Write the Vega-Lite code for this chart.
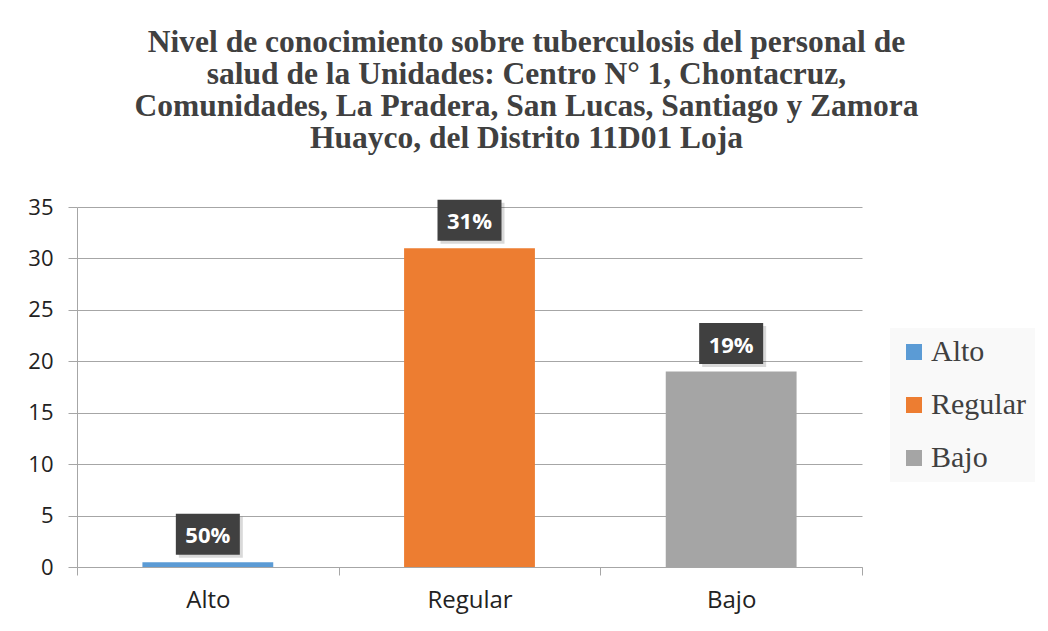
{
  "$schema": "https://vega.github.io/schema/vega-lite/v6.json",
  "width": 785,
  "height": 360,
  "autosize": {"type": "none"},
  "padding": {"left": 77, "top": 207, "right": 186, "bottom": 64},
  "background": "white",
  "data": {
    "values": [
      {"nivel": "Alto", "valor": 0.45, "etiqueta": "50%"},
      {"nivel": "Regular", "valor": 31, "etiqueta": "31%"},
      {"nivel": "Bajo", "valor": 19, "etiqueta": "19%"}
    ]
  },
  "title": {
    "text": [
      "Nivel de conocimiento sobre tuberculosis del personal de",
      "salud de la Unidades: Centro N° 1, Chontacruz,",
      "Comunidades, La Pradera, San Lucas, Santiago y Zamora",
      "Huayco, del Distrito 11D01 Loja"
    ],
    "font": "Liberation Serif",
    "fontSize": 31.5,
    "fontWeight": "bold",
    "color": "#404040",
    "lineHeight": 32,
    "anchor": "middle",
    "baseline": "bottom",
    "dx": 57,
    "offset": 10
  },
  "encoding": {
    "x": {
      "field": "nivel",
      "type": "nominal",
      "sort": ["Alto", "Regular", "Bajo"],
      "scale": {"paddingInner": 0, "paddingOuter": 0},
      "axis": {
        "title": null,
        "labelAngle": 0,
        "tickBand": "extent",
        "tickSize": 8,
        "tickColor": "#a6a6a6",
        "domainColor": "#a6a6a6",
        "labelFont": "Open Sans",
        "labelFontSize": 24,
        "labelColor": "#222222",
        "labelPadding": 13,
        "grid": false
      }
    }
  },
  "layer": [
    {
      "mark": {"type": "bar", "width": {"band": 0.5}},
      "encoding": {
        "y": {
          "field": "valor",
          "type": "quantitative",
          "scale": {"domain": [0, 35], "nice": false},
          "axis": {
            "title": null,
            "values": [0, 5, 10, 15, 20, 25, 30, 35],
            "grid": true,
            "gridColor": "#a6a6a6",
            "domainColor": "#a6a6a6",
            "tickColor": "#a6a6a6",
            "tickSize": 9,
            "labelPadding": 15,
            "labelFont": "Open Sans",
            "labelFontSize": 22,
            "labelColor": "#222222"
          }
        },
        "color": {
          "field": "nivel",
          "type": "nominal",
          "sort": ["Alto", "Regular", "Bajo"],
          "scale": {"domain": ["Alto", "Regular", "Bajo"], "range": ["#5B9BD5", "#ED7D31", "#A5A5A5"]},
          "legend": {
            "title": null,
            "orient": "none",
            "legendX": 813,
            "legendY": 121,
            "fillColor": "#f9f9f9",
            "padding": 9,
            "symbolType": "square",
            "symbolSize": 256,
            "symbolStrokeWidth": 0,
            "symbolOpacity": 1,
            "labelFont": "Liberation Serif",
            "labelFontSize": 30,
            "labelColor": "#404040",
            "labelOffset": 2,
            "rowPadding": 23
          }
        }
      }
    },
    {
      "mark": {"type": "bar", "width": 64, "color": "#000000", "opacity": 0.15, "xOffset": 3, "yOffset": -4.5, "y2Offset": -45.5},
      "encoding": {
        "y": {"field": "valor", "type": "quantitative"},
        "y2": {"field": "valor"}
      }
    },
    {
      "mark": {"type": "bar", "width": 64, "color": "#404040", "yOffset": -7.5, "y2Offset": -48.5},
      "encoding": {
        "y": {"field": "valor", "type": "quantitative"},
        "y2": {"field": "valor"}
      }
    },
    {
      "mark": {"type": "text", "dy": -19, "baseline": "alphabetic", "font": "Open Sans", "fontWeight": "bold", "fontSize": 22, "color": "white"},
      "encoding": {
        "y": {"field": "valor", "type": "quantitative"},
        "text": {"field": "etiqueta"}
      }
    }
  ],
  "config": {
    "view": {"stroke": null}
  }
}
